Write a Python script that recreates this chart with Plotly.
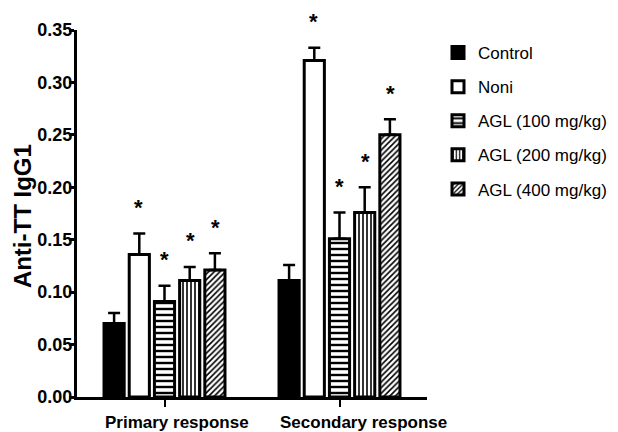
import plotly.graph_objects as go

categories = ["Primary response", "Secondary response"]
groups = ["Control", "Noni", "AGL (100 mg/kg)", "AGL (200 mg/kg)", "AGL (400 mg/kg)"]
primary_mean = [0.07, 0.136, 0.091, 0.111, 0.121]
primary_err = [0.010, 0.020, 0.015, 0.013, 0.016]
secondary_mean = [0.111, 0.321, 0.151, 0.176, 0.250]
secondary_err = [0.015, 0.012, 0.025, 0.024, 0.015]
significant = [False, True, True, True, True]
y_ticks = [0.00, 0.05, 0.10, 0.15, 0.20, 0.25, 0.30, 0.35]
y_title = "Anti-TT IgG1"

fill = ["black", "white", "white", "white", "white"]
pattern = ["", "", "-", "|", "/"]
pat_size = [8, 8, 6, 4, 4]
pat_sol = [0.3, 0.3, 0.4, 0.4, 0.4]

ARIAL = "Liberation Sans, Arial, sans-serif"

# the page body has an 8px margin; the figure is sized so the plot lands where the reference has it
OFF = 8
W, H = 618 - OFF, 432 - OFF

fig = go.Figure()
for i, g in enumerate(groups):
    fig.add_trace(go.Bar(
        name=g, x=categories, y=[primary_mean[i], secondary_mean[i]],
        legendgroup=g,
        marker=dict(color=fill[i], line=dict(color="black", width=3),
                    pattern=dict(shape=pattern[i], fgcolor="black", bgcolor="white",
                                 size=pat_size[i], solidity=pat_sol[i], fillmode="replace")),
        error_y=dict(type="data", symmetric=False,
                     array=[primary_err[i], secondary_err[i]],
                     arrayminus=[0, 0], color="black", thickness=2.5, width=6),
    ))

annotations = []
n = len(groups)
for ci, (means, errs) in enumerate([(primary_mean, primary_err), (secondary_mean, secondary_err)]):
    for i in range(n):
        if significant[i]:
            annotations.append(dict(
                x=ci, xref="x", y=means[i] + errs[i], yref="y",
                xshift=(i - (n - 1) / 2) * 25.6,
                yshift=26, text="*", showarrow=False, yanchor="middle",
                font=dict(family=ARIAL, size=22, color="black", weight="bold"),
            ))

# category labels (left-aligned a little left of each tick, as in the reference)
for ci, cat in enumerate(categories):
    annotations.append(dict(
        x=ci, xref="x", y=0, yref="paper", xanchor="left", yanchor="top",
        xshift=-62, yshift=-14, text=cat, showarrow=False,
        font=dict(family=ARIAL, size=17, color="black", weight="bold"),
    ))

# y-axis title
annotations.append(dict(
    x=-0.157, xref="paper", y=0.493, yref="paper", xanchor="center", yanchor="middle",
    text=y_title, textangle=-90, showarrow=False,
    font=dict(family=ARIAL, size=24, color="black", weight="bold"),
))

fig.update_layout(
    width=W, height=H,
    margin=dict(l=77 - OFF, r=191, t=30 - OFF, b=35),
    paper_bgcolor="white", plot_bgcolor="white",
    barmode="group", bargap=0.28, bargroupgap=0.2,
    showlegend=True,
    legend=dict(xref="container", yref="container",
                x=(438 - OFF) / W, y=1 - (35 - OFF) / H, xanchor="left", yanchor="top",
                traceorder="grouped", tracegroupgap=9,
                font=dict(family=ARIAL, size=17, color="black"),
                bgcolor="rgba(0,0,0,0)"),
    annotations=annotations,
)
fig.update_xaxes(
    type="category", range=[-0.5, 1.5], automargin=False,
    showticklabels=False,
    showline=True, linecolor="black", linewidth=3,
    ticks="outside", ticklen=7, tickwidth=2, tickcolor="black",
    showgrid=False, zeroline=False,
)
fig.update_yaxes(
    range=[0, 0.35], tickvals=y_ticks, ticktext=[f"{v:.2f}" for v in y_ticks],
    automargin=False, ticklabelstandoff=-7,
    showline=True, linecolor="black", linewidth=3,
    ticks="outside", ticklen=5, tickwidth=3, tickcolor="black",
    tickfont=dict(family=ARIAL, size=18, color="black", weight="bold"),
    showgrid=False, zeroline=False,
)
fig.write_html("out.html")
